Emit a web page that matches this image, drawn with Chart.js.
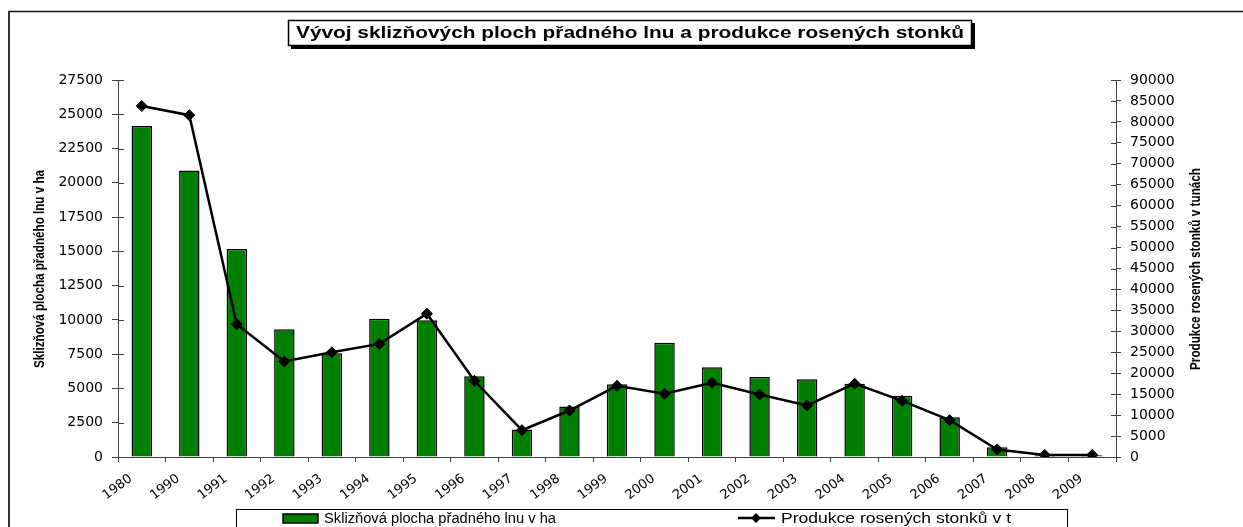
<!DOCTYPE html>
<html>
<head>
<meta charset="utf-8">
<script src="https://cdn.jsdelivr.net/npm/chart.js@4"></script>
<style>
  html, body { margin: 0; padding: 0; background: #fff; }
  #wrap { width: 1243px; height: 527px; }
</style>
</head>
<body>
<div id="wrap"><canvas id="chart" width="1243" height="527"></canvas></div>
<script>
// years on the x axis
const years = ['1980', '1990', '1991', '1992', '1993', '1994', '1995', '1996', '1997', '1998', '1999',
    '2000', '2001', '2002', '2003', '2004', '2005', '2006', '2007', '2008', '2009'];
// harvested area of fibre flax, ha (left axis)
const areaHa = [24150, 20900, 15170, 9310, 7560, 10090, 9970, 5890, 2000, 3680, 5300,
    8340, 6540, 5840, 5670, 5350, 4470, 2900, 710, 120, 120];
// production of retted stems, t (right axis)
const productionT = [83800, 81600, 31700, 22800, 25000, 27000, 34200, 18200, 6400, 11100, 17000,
    15100, 17700, 14900, 12300, 17500, 13400, 8800, 1800, 500, 500];

const chartTitle = 'Vývoj sklizňových ploch přadného lnu a produkce rosených stonků';
const leftTitle = 'Sklizňová plocha přadného lnu v ha';
const rightTitle = 'Produkce rosených stonků v tunách';
const areaLabel = 'Sklizňová plocha přadného lnu v ha';
const prodLabel = 'Produkce rosených stonků v t';

// draws the frame, title box, axis titles and legend box (excel look)
const decor = {
    id: 'decor',
    afterDraw(chart) {
        const { ctx, chartArea: a, scales } = chart;
        ctx.save();

        // outer frame
        ctx.strokeStyle = '#111';
        ctx.lineWidth = 1.5;
        ctx.beginPath();
        ctx.moveTo(8, 11.5);
        ctx.lineTo(1243, 11.5);
        ctx.stroke();
        ctx.strokeStyle = '#333';
        ctx.lineWidth = 2;
        ctx.beginPath();
        ctx.moveTo(9, 11);
        ctx.lineTo(9, 527);
        ctx.stroke();

        // inner halves of the crossing ticks
        ctx.strokeStyle = '#404040';
        ctx.lineWidth = 1;
        scales.y.ticks.forEach(t => {
            const y = Math.round(scales.y.getPixelForValue(t.value)) + 0.5;
            ctx.beginPath();
            ctx.moveTo(a.left, y);
            ctx.lineTo(a.left + 6, y);
            ctx.stroke();
        });
        scales.y1.ticks.forEach(t => {
            const y = Math.round(scales.y1.getPixelForValue(t.value)) + 0.5;
            ctx.beginPath();
            ctx.moveTo(a.right - 5, y);
            ctx.lineTo(a.right, y);
            ctx.stroke();
        });

        // stretched text helper
        const text = (str, x, y, font, width, rot, align) => {
            ctx.save();
            ctx.font = font;
            ctx.textAlign = align || 'center';
            ctx.textBaseline = 'middle';
            ctx.fillStyle = '#000';
            ctx.translate(x, y);
            if (rot) ctx.rotate(rot);
            const sx = width / ctx.measureText(str).width;
            ctx.scale(sx, 1);
            ctx.fillText(str, 0, 0);
            ctx.restore();
        };

        // title box with shadow
        ctx.fillStyle = '#000';
        ctx.fillRect(291, 23, 684, 26);
        ctx.fillStyle = '#fff';
        ctx.fillRect(288, 20, 684, 26);
        ctx.strokeStyle = '#000';
        ctx.lineWidth = 1.5;
        ctx.strokeRect(288.5, 20.5, 683, 25);
        text(chartTitle, 630, 34, 'bold 16px "Liberation Sans", Arial, sans-serif', 668);

        // axis titles
        text(leftTitle, 40, 269, 'bold 14px "Liberation Sans Narrow", "Liberation Sans", Arial, sans-serif', 198, -Math.PI / 2);
        text(rightTitle, 1196, 269, 'bold 14px "Liberation Sans Narrow", "Liberation Sans", Arial, sans-serif', 202, -Math.PI / 2);

        // legend box
        ctx.strokeStyle = '#000';
        ctx.lineWidth = 1;
        ctx.strokeRect(236.5, 509.5, 831, 30);
        const bar = chart.data.datasets[0];
        const line = chart.data.datasets[1];
        const ly = 518;
        ctx.fillStyle = bar.backgroundColor;
        ctx.fillRect(283, ly - 4, 35, 9);
        ctx.strokeStyle = '#000';
        ctx.lineWidth = 1.5;
        ctx.strokeRect(283, ly - 4, 35, 9);
        text(bar.label, 324, ly + 1, '14px "Liberation Sans", Arial, sans-serif', 232, 0, 'left');

        ctx.strokeStyle = line.borderColor;
        ctx.lineWidth = 2.5;
        ctx.beginPath();
        ctx.moveTo(738, ly);
        ctx.lineTo(775, ly);
        ctx.stroke();
        ctx.fillStyle = '#000';
        ctx.beginPath();
        ctx.moveTo(756, ly - 5);
        ctx.lineTo(761, ly);
        ctx.lineTo(756, ly + 5);
        ctx.lineTo(751, ly);
        ctx.closePath();
        ctx.fill();
        text(line.label, 781, ly + 1, '14px "Liberation Sans", Arial, sans-serif', 230, 0, 'left');

        ctx.restore();
    }
};

const tickFont = { family: '"DejaVu Sans", sans-serif', size: 14 };
const plain = v => String(v);

const ctx = document.getElementById('chart').getContext('2d');
const myChart = new Chart(ctx, {
    type: 'bar',
    data: {
        labels: years,
        datasets: [{
            label: areaLabel,
            data: areaHa,
            backgroundColor: '#008000',
            borderColor: '#000',
            borderWidth: 1.5,
            barPercentage: 0.43,
            categoryPercentage: 1,
            yAxisID: 'y',
            order: 2
        }, {
            type: 'line',
            label: prodLabel,
            data: productionT,
            borderColor: '#000',
            backgroundColor: '#000',
            borderWidth: 2.5,
            pointStyle: 'rectRot',
            pointRadius: 5.5,
            pointBorderWidth: 1,
            tension: 0,
            yAxisID: 'y1',
            order: 1
        }]
    },
    options: {
        responsive: false,
        animation: false,
        layout: { padding: { left: 10, right: 27, top: 80, bottom: 20 } },
        plugins: {
            legend: { display: false },
            title: { display: false },
            tooltip: { enabled: false }
        },
        scales: {
            x: {
                offset: true,
                grid: { offset: true, drawOnChartArea: false, tickLength: 5, color: '#404040' },
                border: { color: '#404040' },
                ticks: {
                    font: { family: '"DejaVu Sans", sans-serif', size: 13 }, color: '#000',
                    minRotation: 37, maxRotation: 37, padding: 9, labelOffset: -11
                },
                afterFit(s) { s.height = 50; s.paddingLeft = 0; s.paddingRight = 0; }
            },
            y: {
                position: 'left',
                min: 0,
                max: 27500,
                grid: { drawOnChartArea: false, tickLength: 6, color: '#404040' },
                border: { color: '#404040' },
                ticks: { stepSize: 2500, font: tickFont, color: '#000', padding: 9, callback: plain },
                afterFit(s) { s.width = 108; s.paddingTop = 0; s.paddingBottom = 0; }
            },
            y1: {
                position: 'right',
                min: 0,
                max: 90000,
                grid: { drawOnChartArea: false, tickLength: 5, color: '#404040' },
                border: { color: '#404040' },
                ticks: { stepSize: 5000, font: tickFont, color: '#000', padding: 9, callback: plain },
                afterFit(s) { s.width = 100; s.paddingTop = 0; s.paddingBottom = 0; }
            }
        }
    },
    plugins: [decor]
});
</script>
</body>
</html>
